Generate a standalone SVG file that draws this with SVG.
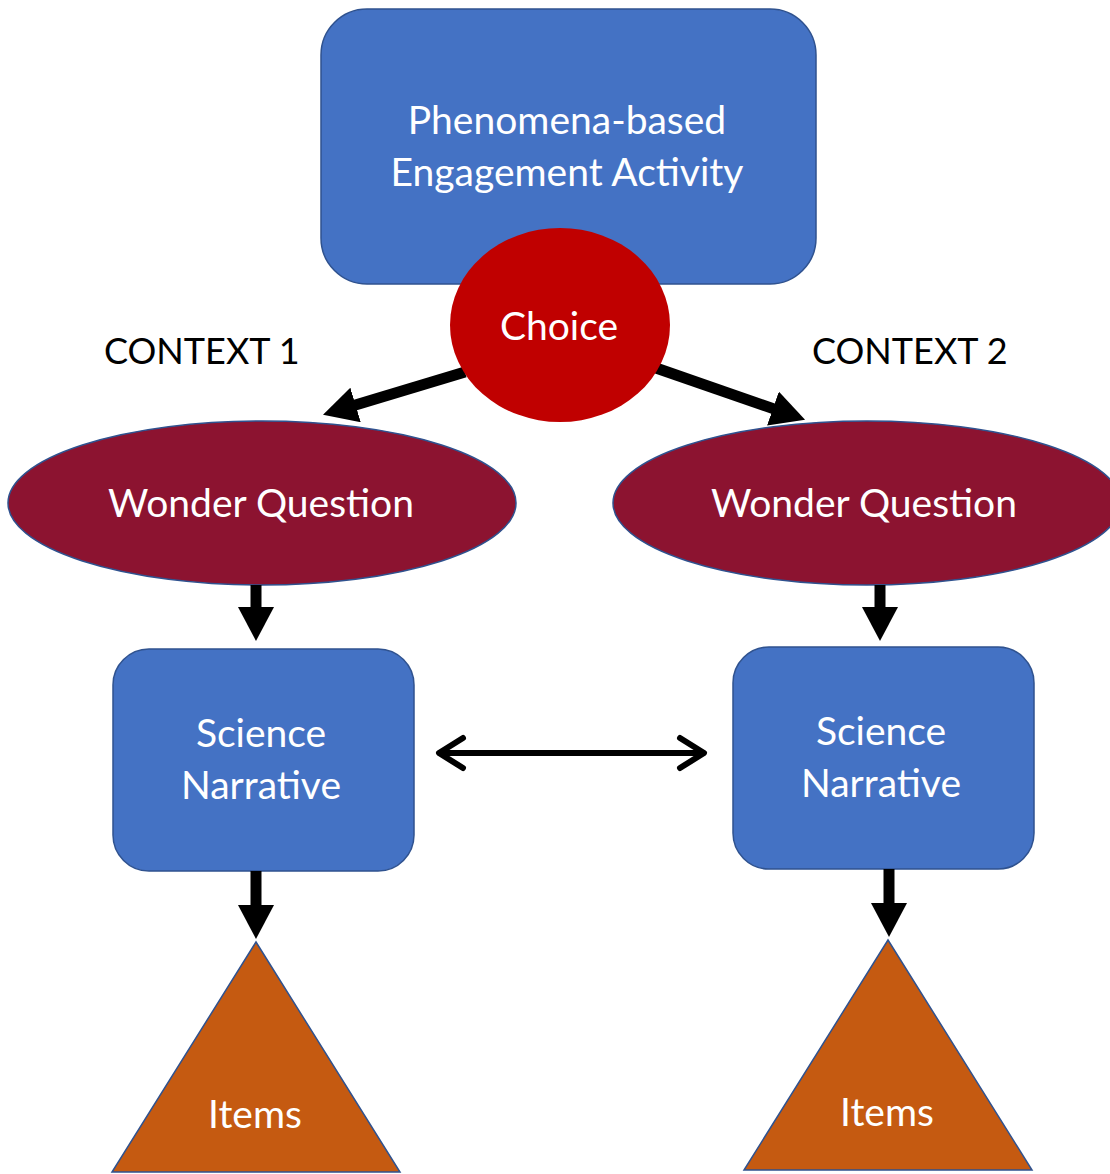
<svg xmlns="http://www.w3.org/2000/svg" width="1110" height="1174" viewBox="0 0 1110 1174">
<defs>
<marker id="head" markerUnits="userSpaceOnUse" markerWidth="34" markerHeight="36" viewBox="0 0 34 36" refX="1" refY="18" orient="auto">
<path d="M0,0 L34,18 L0,36 Z" fill="#000"/>
</marker>
</defs>
<style>
.box{fill:#4472C4;stroke:#2F528F;stroke-width:1.5}
.wq{fill:#8C1330;stroke:#2F528F;stroke-width:1.5}
.tri{fill:#C55A11;stroke:#2F528F;stroke-width:1.5}
.t{font-family:Lato,"Open Sans","Liberation Sans",sans-serif;font-size:39px;fill:#fff;text-anchor:middle}
.lbl{font-family:Lato,"Open Sans","Liberation Sans",sans-serif;font-size:36px;fill:#000}
.conn{stroke:#000;stroke-width:11;fill:none;marker-end:url(#head)}
.dbl{stroke:#000;stroke-width:6;fill:none;stroke-linecap:round;stroke-linejoin:round}
</style>
<rect width="1110" height="1174" fill="#fff"/>
<g id="top">
<rect class="box" x="321" y="9" width="495" height="275" rx="46"/>
<text class="t" x="567" y="134">Phenomena-based</text>
<text class="t" x="567" y="186">Engagement Activity</text>
</g>
<g id="wq1">
<ellipse class="wq" cx="262" cy="503" rx="254" ry="82"/>
<text class="t" x="261" y="517">Wonder Question</text>
</g>
<g id="wq2">
<ellipse class="wq" cx="867" cy="503" rx="254" ry="82"/>
<text class="t" x="864" y="517">Wonder Question</text>
</g>
<g id="sn1">
<rect class="box" x="113" y="649" width="301" height="222" rx="36"/>
<text class="t" x="261" y="747">Science</text>
<text class="t" x="261" y="799">Narrative</text>
</g>
<g id="sn2">
<rect class="box" x="733" y="647" width="301" height="222" rx="36"/>
<text class="t" x="881" y="745">Science</text>
<text class="t" x="881" y="797">Narrative</text>
</g>
<g id="items1">
<polygon class="tri" points="256,942 400,1172 112,1172"/>
<text class="t" x="255" y="1128">Items</text>
</g>
<g id="items2">
<polygon class="tri" points="888,940 1032,1170 744,1170"/>
<text class="t" x="887" y="1126">Items</text>
</g>
<g id="connectors">
<line class="conn" x1="465" y1="372" x2="354.6" y2="405.2"/>
<line class="conn" x1="656" y1="368" x2="773.9" y2="408.9"/>
<line class="conn" x1="256" y1="585" x2="256" y2="608"/>
<line class="conn" x1="880" y1="585" x2="880" y2="608"/>
<line class="conn" x1="256" y1="871" x2="256" y2="906"/>
<line class="conn" x1="889" y1="869" x2="889" y2="904"/>
<line class="dbl" x1="440" y1="753" x2="703" y2="753"/>
<polyline class="dbl" points="463,738 439,753 463,768"/>
<polyline class="dbl" points="680,738 704,753 680,768"/>
</g>
<g id="choice">
<ellipse cx="560" cy="325" rx="110" ry="97" fill="#C00000"/>
<text class="t" x="559" y="340">Choice</text>
</g>
<g id="labels">
<text class="lbl" x="104" y="364">CONTEXT 1</text>
<text class="lbl" x="812" y="364">CONTEXT 2</text>
</g>
</svg>
